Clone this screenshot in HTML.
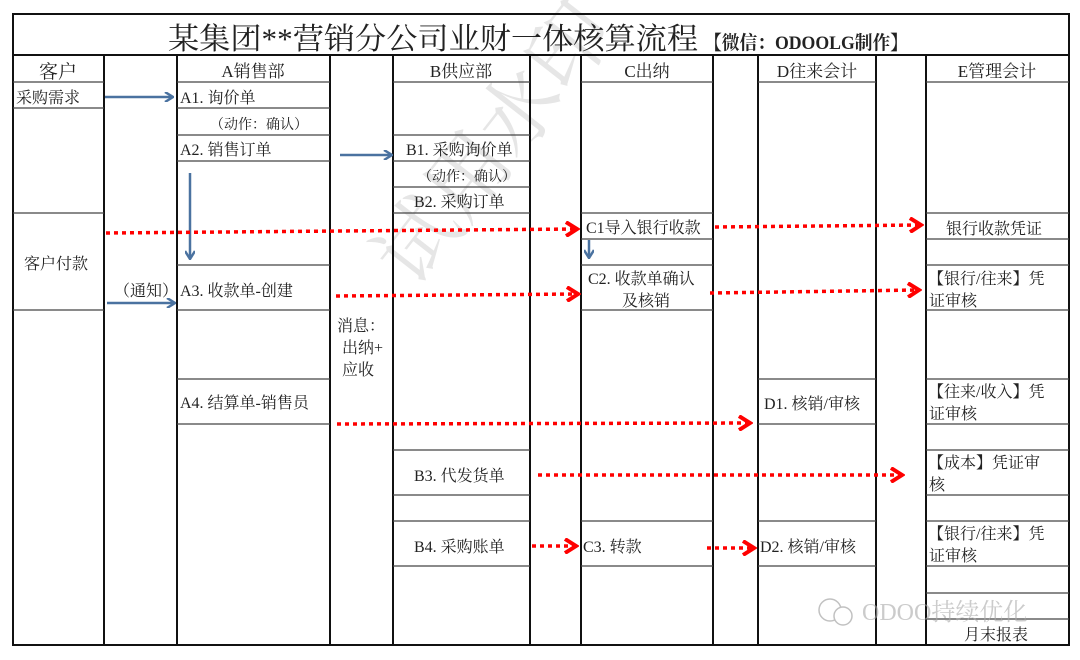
<!DOCTYPE html>
<html><head><meta charset="utf-8"><style>
html,body{margin:0;padding:0;background:#fff;}
svg{display:block;}
text{font-family:"Liberation Serif","Noto Serif CJK SC","Noto Sans CJK SC",serif;fill:#222;}
</style></head><body>
<svg width="1080" height="660" viewBox="0 0 1080 660" xmlns="http://www.w3.org/2000/svg">
<defs>
<marker id="bh" markerWidth="10" markerHeight="10" refX="9" refY="5" orient="auto" markerUnits="userSpaceOnUse"><path d="M1,0 L9,5 L1,10" fill="none" stroke="#4a72a0" stroke-width="2.5"/></marker>
<marker id="rh" markerWidth="16" markerHeight="16" refX="13" refY="8" orient="auto" markerUnits="userSpaceOnUse"><path d="M2,1 L13,8 L2,15" fill="none" stroke="#f00" stroke-width="4"/></marker>
</defs>
<!-- watermark -->
<text x="0" y="0" transform="translate(415,290) rotate(-52)" font-size="82" style="fill:#e6e6e6" font-family="Liberation Sans,Noto Sans CJK SC,sans-serif">试用水印</text>

<g stroke="#111" stroke-width="2" fill="none">
<rect x="13" y="14" width="1056" height="631"/>
<line x1="13" y1="55" x2="1069" y2="55"/>
<line x1="104" y1="55" x2="104" y2="645"/>
<line x1="177" y1="55" x2="177" y2="645"/>
<line x1="330" y1="55" x2="330" y2="645"/>
<line x1="393" y1="55" x2="393" y2="645"/>
<line x1="530" y1="55" x2="530" y2="645"/>
<line x1="581" y1="55" x2="581" y2="645"/>
<line x1="713" y1="55" x2="713" y2="645"/>
<line x1="758" y1="55" x2="758" y2="645"/>
<line x1="876" y1="55" x2="876" y2="645"/>
<line x1="926" y1="55" x2="926" y2="645"/>
</g>
<g stroke="#444" stroke-width="1.3">
<line x1="13" y1="82" x2="104" y2="82"/><line x1="177" y1="82" x2="330" y2="82"/><line x1="393" y1="82" x2="530" y2="82"/><line x1="581" y1="82" x2="713" y2="82"/><line x1="758" y1="82" x2="876" y2="82"/><line x1="926" y1="82" x2="1069" y2="82"/>
<line x1="13" y1="108" x2="104" y2="108"/><line x1="13" y1="213" x2="104" y2="213"/><line x1="13" y1="310" x2="104" y2="310"/>
<line x1="177" y1="108" x2="330" y2="108"/><line x1="177" y1="135" x2="330" y2="135"/><line x1="177" y1="161" x2="330" y2="161"/><line x1="177" y1="265" x2="330" y2="265"/><line x1="177" y1="310" x2="330" y2="310"/><line x1="177" y1="379" x2="330" y2="379"/><line x1="177" y1="424" x2="330" y2="424"/>
<line x1="393" y1="135" x2="530" y2="135"/><line x1="393" y1="161" x2="530" y2="161"/><line x1="393" y1="187" x2="530" y2="187"/><line x1="393" y1="213" x2="530" y2="213"/><line x1="393" y1="450" x2="530" y2="450"/><line x1="393" y1="495" x2="530" y2="495"/><line x1="393" y1="521" x2="530" y2="521"/><line x1="393" y1="566" x2="530" y2="566"/>
<line x1="581" y1="213" x2="713" y2="213"/><line x1="581" y1="239" x2="713" y2="239"/><line x1="581" y1="265" x2="713" y2="265"/><line x1="581" y1="310" x2="713" y2="310"/><line x1="581" y1="521" x2="713" y2="521"/><line x1="581" y1="566" x2="713" y2="566"/>
<line x1="758" y1="379" x2="876" y2="379"/><line x1="758" y1="424" x2="876" y2="424"/><line x1="758" y1="521" x2="876" y2="521"/><line x1="758" y1="566" x2="876" y2="566"/>
<line x1="926" y1="213" x2="1069" y2="213"/><line x1="926" y1="239" x2="1069" y2="239"/><line x1="926" y1="265" x2="1069" y2="265"/><line x1="926" y1="310" x2="1069" y2="310"/><line x1="926" y1="379" x2="1069" y2="379"/><line x1="926" y1="424" x2="1069" y2="424"/><line x1="926" y1="450" x2="1069" y2="450"/><line x1="926" y1="495" x2="1069" y2="495"/><line x1="926" y1="521" x2="1069" y2="521"/><line x1="926" y1="566" x2="1069" y2="566"/><line x1="926" y1="593" x2="1069" y2="593"/><line x1="926" y1="619" x2="1069" y2="619"/>
</g>

<text x="168" y="49" font-size="30" textLength="530" lengthAdjust="spacingAndGlyphs">某集团**营销分公司业财一体核算流程</text>
<text x="704" y="49" font-size="19" font-weight="bold" textLength="204" lengthAdjust="spacingAndGlyphs">【微信：ODOOLG制作】</text>

<g font-size="17" text-anchor="middle">
<text x="58" y="78" font-size="19">客户</text>
<text x="253" y="77">A销售部</text>
<text x="461" y="77">B供应部</text>
<text x="647" y="77">C出纳</text>
<text x="817" y="77">D往来会计</text>
<text x="997" y="77">E管理会计</text>
</g>
<g font-size="16">
<text x="16" y="103">采购需求</text>
<text x="24" y="269">客户付款</text>
<text x="114" y="296">（通知）</text>
<text x="180" y="103">A1. 询价单</text>
<text x="210" y="129" font-size="14">（动作：确认）</text>
<text x="180" y="155">A2. 销售订单</text>
<text x="180" y="296">A3. 收款单-创建</text>
<text x="180" y="408">A4. 结算单-销售员</text>
<text x="406" y="155">B1. 采购询价单</text>
<text x="418" y="181" font-size="14">（动作：确认）</text>
<text x="414" y="207">B2. 采购订单</text>
<text x="414" y="481">B3. 代发货单</text>
<text x="414" y="552">B4. 采购账单</text>
<text x="586" y="233">C1导入银行收款</text>
<text x="588" y="284">C2. 收款单确认</text>
<text x="622" y="306">及核销</text>
<text x="583" y="552">C3. 转款</text>
<text x="764" y="409">D1. 核销/审核</text>
<text x="760" y="552">D2. 核销/审核</text>
<text x="946" y="234">银行收款凭证</text>
<text x="928" y="284">【银行/往来】凭</text>
<text x="929" y="306">证审核</text>
<text x="928" y="397">【往来/收入】凭</text>
<text x="929" y="419">证审核</text>
<text x="928" y="468">【成本】凭证审</text>
<text x="929" y="490">核</text>
<text x="928" y="539">【银行/往来】凭</text>
<text x="929" y="561">证审核</text>
<text x="964" y="640">月末报表</text>
<text x="337" y="331">消息：</text>
<text x="342" y="353">出纳+</text>
<text x="342" y="375">应收</text>
</g>

<g stroke="#4a72a0" stroke-width="2.5" fill="none">
<line x1="105" y1="97" x2="173" y2="97" marker-end="url(#bh)"/>
<line x1="340" y1="155" x2="392" y2="155" marker-end="url(#bh)"/>
<line x1="190" y1="173" x2="190" y2="259" marker-end="url(#bh)"/>
<line x1="107" y1="303" x2="175" y2="303" marker-end="url(#bh)"/>
<line x1="589" y1="240" x2="589" y2="258" marker-end="url(#bh)"/>
</g>
<g stroke="#f00" stroke-width="3.5" stroke-dasharray="4,4" fill="none">
<line x1="106" y1="233" x2="577" y2="229" marker-end="url(#rh)"/>
<line x1="715" y1="227" x2="921" y2="225" marker-end="url(#rh)"/>
<line x1="336" y1="296" x2="578" y2="294" marker-end="url(#rh)"/>
<line x1="710" y1="293" x2="919" y2="290" marker-end="url(#rh)"/>
<line x1="337" y1="424" x2="750" y2="423" marker-end="url(#rh)"/>
<line x1="538" y1="475" x2="902" y2="475" marker-end="url(#rh)"/>
<line x1="532" y1="546" x2="576" y2="546" marker-end="url(#rh)"/>
<line x1="707" y1="548" x2="754" y2="548" marker-end="url(#rh)"/>
</g>

<g opacity="0.6">
<circle cx="830" cy="610" r="11" fill="none" stroke="#999" stroke-width="1.5"/>
<circle cx="843" cy="616" r="9" fill="#fff" stroke="#999" stroke-width="1.5"/>
<text x="862" y="620" font-size="24" style="fill:#aaa" font-family="Liberation Sans,Noto Sans CJK SC,sans-serif">ODOO持续优化</text>
</g>
</svg>
</body></html>
